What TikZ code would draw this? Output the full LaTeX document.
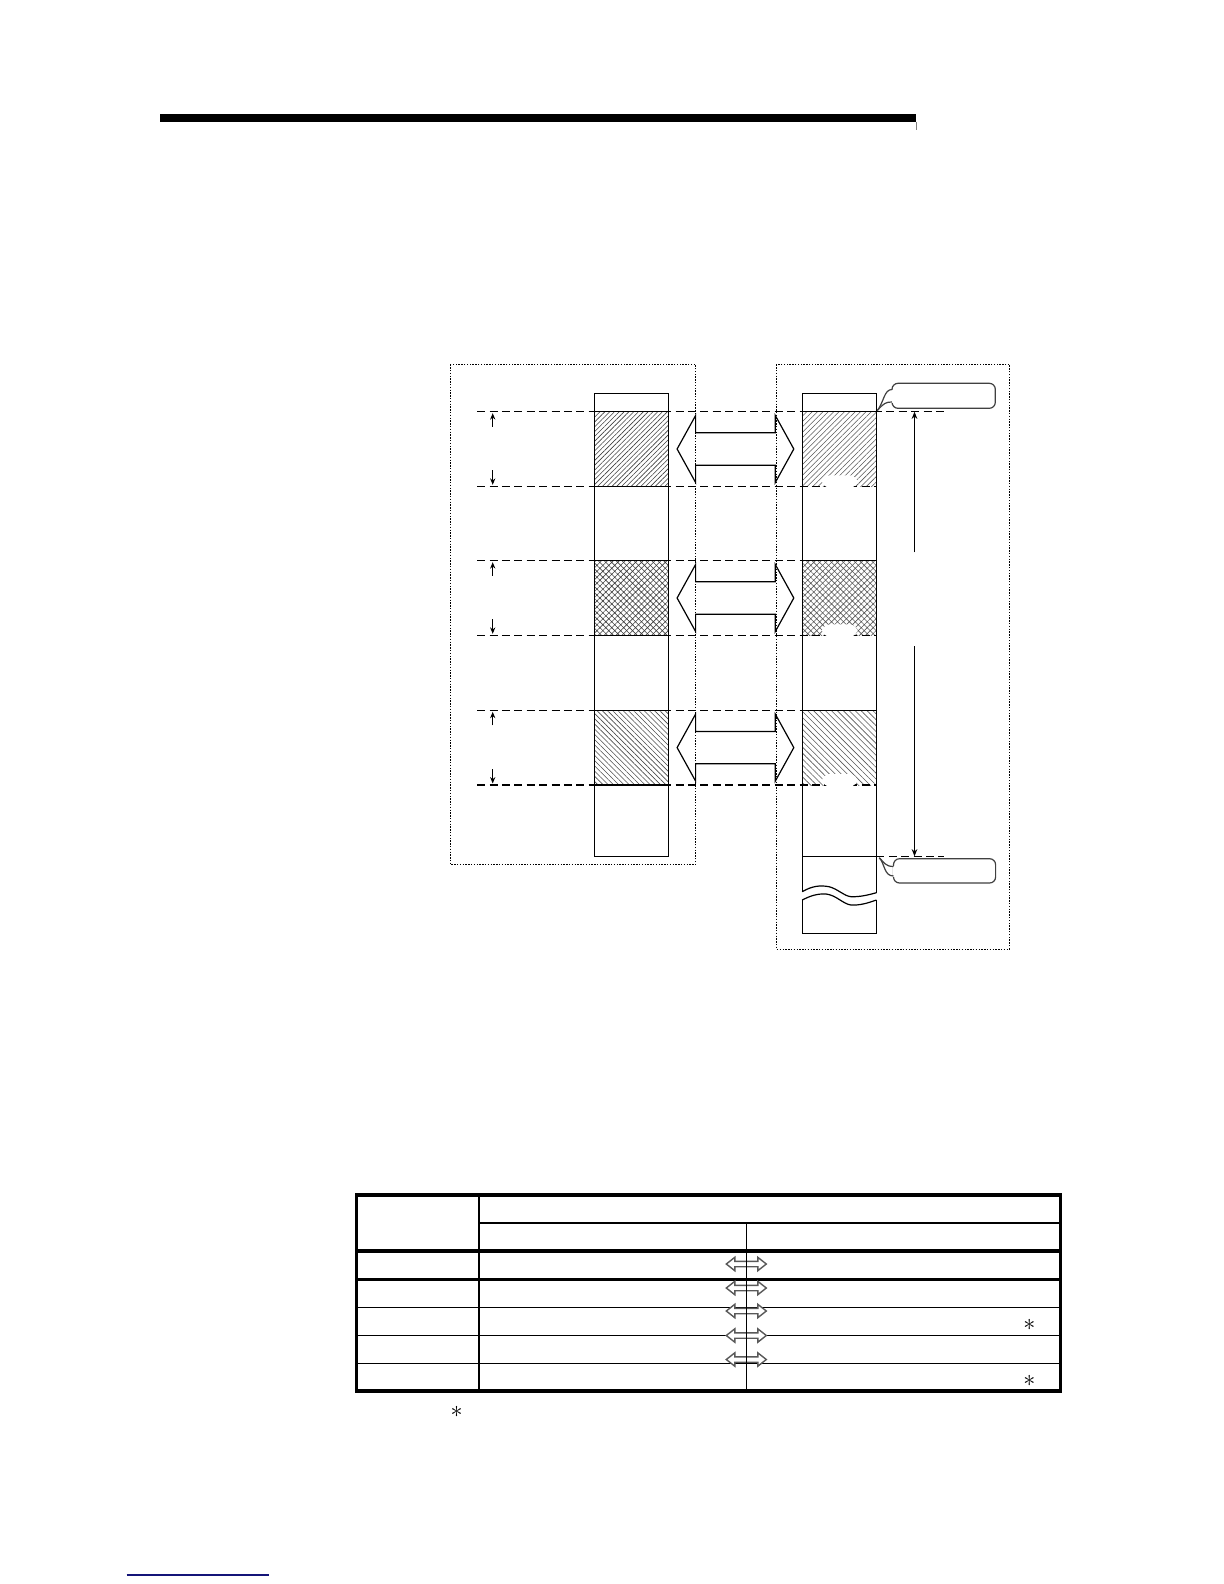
\documentclass[tikz,border=0pt]{standalone}
\usetikzlibrary{patterns.meta,arrows.meta}
\begin{document}
\begin{tikzpicture}[x=0.5pt,y=-0.5pt,
  col/.style={draw=black,line width=0.6pt},
  dashln/.style={draw=black,dash pattern=on 4pt off 2.2pt,line width=0.55pt},
  dotbox/.style={draw=black,dash pattern=on 0.7pt off 0.7pt,line width=0.5pt},
  bigarrow/.style={draw=black,line width=0.6pt,line join=miter},
  smallarr/.style={-{Stealth[length=3.2pt,width=2.6pt]},line width=0.5pt},
  longarr/.style={-{Stealth[length=3.6pt,width=2.8pt]},line width=0.5pt},
  callout/.style={draw=black!75,line width=0.6pt,rounded corners=3pt},
  tabthick/.style={line width=1.6pt},
  tabmid/.style={line width=0.8pt},
  tabthin/.style={line width=0.6pt},
  tabarrow/.style={draw=black!65,fill=white,line width=0.7pt,line join=miter},
  star/.style={inner sep=0pt,font=\large}]
\useasboundingbox (0,0) rectangle (1224,1584);
\fill[white] (0,0) rectangle (1224,1584);

% heading bar
\fill (159.6,114) rectangle (916,122);
\draw[black!50,line width=0.4pt] (916.5,122) -- (916.5,130.5);

% dotted frames
\draw[dotbox] (450.2,364.3) rectangle (695.6,864.3);
\draw[dotbox] (776.4,364.3) rectangle (1009.5,949);

% hatched regions, left column
\path[pattern={Lines[angle=45,distance=1.7pt,line width=0.3pt]},pattern color=black!75] (594.5,411.7) rectangle (668.7,486.3);
\path[pattern={Hatch[angle=45,distance=2.1pt,line width=0.3pt]},pattern color=black!75] (594.5,560.7) rectangle (668.7,635.3);
\path[pattern={Lines[angle=-45,distance=1.85pt,line width=0.3pt]},pattern color=black!70] (594.5,710.3) rectangle (668.7,785);
% hatched regions, right column
\path[pattern={Lines[angle=45,distance=1.9pt,line width=0.3pt]},pattern color=black!65] (802.2,411.7) rectangle (876.4,486.3);
\path[pattern={Hatch[angle=45,distance=2.1pt,line width=0.3pt]},pattern color=black!65] (802.2,560.7) rectangle (876.4,635.3);
\path[pattern={Lines[angle=-45,distance=2.1pt,line width=0.3pt]},pattern color=black!65] (802.2,710.3) rectangle (876.4,785);

% dashed guide lines
\draw[dashln] (477.1,411.7) -- (943.6,411.7);
\foreach \y in {486.3,560.7,635.3,710.3,785}{
  \draw[dashln] (477.1,\y) -- (876.4,\y);
}
\draw[dashln] (876.4,856.3) -- (943.6,856.3);

% erased label patches in right column
\foreach \yi in {486.3,635.3,785}{
  \fill[white,rounded corners=4pt] (822,\yi-11) rectangle (857.5,\yi+1.5);
}

% left column
\draw[col] (594.5,393.3) rectangle (668.7,856.3);
\foreach \y in {411.7,486.3,560.7,635.3,710.3,785}{
  \draw[col] (594.5,\y) -- (668.7,\y);
}

% right column
\draw[col] (802.2,393.3) -- (876.4,393.3);
\draw[col] (802.2,393.3) -- (802.2,891.7);
\draw[col] (876.4,393.3) -- (876.4,892.7);
\foreach \y in {411.7,560.7,710.3}{
  \draw[col] (802.2,\y) -- (876.4,\y);
}
\draw[col] (802.2,856.3) -- (876.4,856.3);
\draw[col] (802.2,891.7) .. controls (812,886) and (820,885) .. (829,886.7)
   .. controls (838,889) and (844,896) .. (851,896.7)
   .. controls (860,897) and (868,895) .. (876.4,892.7);
\draw[col] (802.2,900) .. controls (810,896) and (817,893.5) .. (826,894)
   .. controls (836,895) and (843,904) .. (851,905)
   .. controls (860,905.5) and (868,903) .. (876.4,900);
\draw[col] (802.2,900) -- (802.2,933.7) -- (876.4,933.7) -- (876.4,900);

% small dimension arrows at left
\foreach \yo/\yi in {411.7/486.3,560.7/635.3,710.3/785}{
  \draw[smallarr] (492.7,\yo+15) -- (492.7,\yo+1.5);
  \draw[smallarr] (492.7,\yi-16) -- (492.7,\yi-1.5);
}

% big double arrows
\foreach \yc in {449,598,747.6}{
  \draw[bigarrow] (677.1,\yc) -- (695.6,\yc-33.5) -- (695.6,\yc-16.2) -- (775.3,\yc-16.2)
     -- (775.3,\yc-33.5) -- (793.8,\yc) -- (775.3,\yc+33.5) -- (775.3,\yc+16.2)
     -- (695.6,\yc+16.2) -- (695.6,\yc+33.5) -- cycle;
}

% long vertical arrow
\coordinate (vtop) at (914.5,411.7);
\coordinate (vgapA) at (914.5,552.3);
\coordinate (vgapB) at (914.5,646);
\coordinate (vbot) at (914.5,856.3);
\draw[longarr] (vgapA) -- (vtop);
\draw[longarr] (vgapB) -- (vbot);

% callouts
\draw[callout] (892,383.3) rectangle (995.3,408.3);
\fill[white] (891,390) rectangle (893,402.5);
\draw[draw=black!75,line width=0.6pt] (892,389.5) .. controls (884,389.5) and (884,402) .. (877.3,410.5);
\draw[draw=black!75,line width=0.6pt] (877.3,410.5) .. controls (884,403) and (886,402) .. (892,402);

\draw[callout] (893.5,858.7) rectangle (995.6,883);
\fill[white] (892.5,865.5) rectangle (894.5,876.5);
\draw[draw=black!75,line width=0.6pt] (879.3,857.8) .. controls (884,862) and (885,866.5) .. (893.5,866.5);
\draw[draw=black!75,line width=0.6pt] (879.3,857.8) .. controls (885,864) and (884,876) .. (893.5,876);

% table
\draw[tabthick] (356.8,1195) rectangle (1060.4,1391);
\draw[tabthick] (356.8,1251) -- (1060.4,1251);
\draw[tabmid,line width=1.2pt] (356.8,1279.5) -- (1060.4,1279.5);
\draw[tabmid] (479,1222.7) -- (1060.4,1222.7);
\draw[tabthin] (356.8,1307.7) -- (1060.4,1307.7);
\draw[tabthin] (356.8,1335.3) -- (1060.4,1335.3);
\draw[tabthin] (356.8,1363.3) -- (1060.4,1363.3);
\draw[tabthin,line width=0.7pt] (479,1195) -- (479,1391);
\foreach \yc in {1264,1288,1311,1335.5,1359.5}{
  \draw[tabarrow] (726.3,\yc) -- (734.8,\yc-6.7) -- (734.8,\yc-2.7) -- (757.8,\yc-2.7)
     -- (757.8,\yc-6.7) -- (766.3,\yc) -- (757.8,\yc+6.7) -- (757.8,\yc+2.7)
     -- (734.8,\yc+2.7) -- (734.8,\yc+6.7) -- cycle;
}
\draw[tabmid] (746.3,1222.7) -- (746.3,1391);

\node[star] (s1) at (1029.3,1325) {$\ast$};
\node[star] (s2) at (1029.3,1380.5) {$\ast$};
\node[star] (s3) at (456.5,1412) {$\ast$};

% footer line
\draw[color={rgb,255:red,20;green,20;blue,120},line width=0.8pt] (126.7,1575) -- (269,1575);
\end{tikzpicture}
\end{document}
